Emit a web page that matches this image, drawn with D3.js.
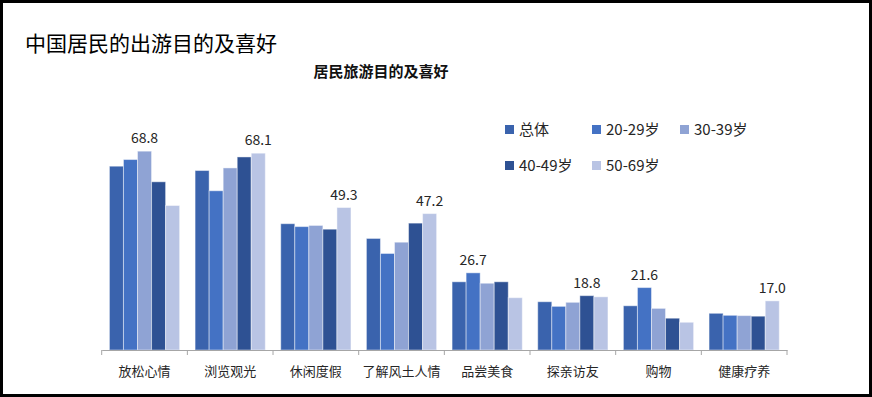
<!DOCTYPE html>
<html>
<head>
<meta charset="utf-8">
<script src="https://cdn.jsdelivr.net/npm/d3@7"></script>
<style>
  body { margin: 0; background: #fff; }
  text { font-family: "Noto Sans CJK SC", "Noto Sans", sans-serif; }
</style>
</head>
<body>
<div id="chart-area"></div>
<script>
// categories and series
var categories = ["放松心情", "浏览观光", "休闲度假", "了解风土人情", "品尝美食", "探亲访友", "购物", "健康疗养"];
var seriesNames = ["总体", "20-29岁", "30-39岁", "40-49岁", "50-69岁"];
var seriesColors = ["#3a63ad", "#4472c4", "#8fa3d4", "#2e5193", "#b9c4e4"];

var total  = [63.6, 62.1, 43.7, 38.6, 23.6, 16.7, 15.3, 12.7];
var age20  = [65.9, 55.1, 42.7, 33.4, 26.7, 15.1, 21.6, 12.0];
var age30  = [68.8, 63.0, 43.1, 37.3, 23.1, 16.5, 14.4, 11.9];
var age40  = [58.2, 66.8, 41.8, 43.9, 23.6, 18.8, 11.0, 11.7];
var age50  = [50.0, 68.1, 49.3, 47.2, 18.1, 18.4, 9.6, 17.0];

var seriesValues = [total, age20, age30, age40, age50];

TravelChart = function(_parentElement) {
  this.parentElement = _parentElement;
  this.width = 872;
  this.height = 397;
  this.initVis();
}

TravelChart.prototype.initVis = function() {
  var vis = this;

  vis.svg = d3.select("#" + vis.parentElement)
    .append("svg")
    .attr("width", vis.width)
    .attr("height", vis.height);

  // outer frame
  vis.svg.append("rect")
    .attr("x", 1.5).attr("y", 1.5)
    .attr("width", vis.width - 3).attr("height", vis.height - 3)
    .attr("fill", "#fff")
    .attr("stroke", "#000")
    .attr("stroke-width", 3);

  vis.svg.append("text")
    .attr("x", 25).attr("y", 51)
    .attr("font-size", 21)
    .attr("fill", "#000")
    .text("中国居民的出游目的及喜好");

  vis.svg.append("text")
    .attr("x", 381).attr("y", 77)
    .attr("text-anchor", "middle")
    .attr("font-size", 15)
    .attr("font-weight", "bold")
    .attr("fill", "#111")
    .text("居民旅游目的及喜好");

  vis.x0 = d3.scaleBand()
    .domain(categories)
    .range([101.7, 787]);

  vis.x1 = d3.scaleBand()
    .domain(seriesNames)
    .range([0, vis.x0.bandwidth()])
    .paddingOuter(0.55);

  vis.y = d3.scaleLinear()
    .domain([0, 70])
    .range([350, 350 - 70 * 2.89]);

  vis.updateVisualization();
}

TravelChart.prototype.updateVisualization = function() {
  var vis = this;

  // one row per category
  var rows = categories.map(function(c, i) {
    return seriesNames.map(function(s, j) {
      return {cat: c, name: s, value: seriesValues[j][i], color: seriesColors[j]};
    });
  });

  var groups = vis.svg.selectAll(".group")
    .data(rows)
    .enter().append("g")
    .attr("class", "group")
    .attr("transform", function(d, i) {
      return "translate(" + vis.x0(categories[i]) + ",0)";
    });

  groups.selectAll("rect")
    .data(function(d) { return d; })
    .enter().append("rect")
    .attr("x", function(d) { return vis.x1(d.name); })
    .attr("width", vis.x1.bandwidth())
    .attr("y", function(d) { return vis.y(d.value); })
    .attr("height", function(d) { return vis.y(0) - vis.y(d.value); })
    .attr("fill", function(d) { return d.color; })
    .attr("stroke", "rgba(255,255,255,0.45)")
    .attr("stroke-width", 1);

  // label only the highest bar of each group
  groups.append("text")
    .datum(function(d) { return d3.greatest(d, function(b) { return b.value; }); })
    .attr("x", function(d) { return vis.x1(d.name) + vis.x1.bandwidth() / 2; })
    .attr("y", function(d) { return vis.y(d.value) - 8; })
    .attr("text-anchor", "middle")
    .attr("font-size", 14)
    .attr("fill", "#262626")
    .text(function(d) { return d.value.toFixed(1); });

  // category axis
  var axis = vis.svg.append("g")
    .attr("transform", "translate(0,350)")
    .call(d3.axisBottom(vis.x0).tickSize(0).tickPadding(17));

  axis.select(".domain").attr("stroke", "#a6a6a6");
  axis.selectAll(".tick text")
    .attr("font-size", 13)
    .attr("fill", "#262626")
    .attr("font-family", "Noto Sans CJK SC");

  var edges = categories.map(function(c) { return vis.x0(c); }).concat([vis.x0.range()[1]]);
  axis.selectAll(".edge")
    .data(edges)
    .enter().append("line")
    .attr("class", "edge")
    .attr("x1", function(d) { return d; })
    .attr("x2", function(d) { return d; })
    .attr("y1", 0).attr("y2", 5)
    .attr("stroke", "#a6a6a6");

  // legend, 3 per row
  var legendX = [505, 592, 680];
  var legendY = [130, 166];
  var legend = vis.svg.selectAll(".legend")
    .data(seriesNames)
    .enter().append("g")
    .attr("class", "legend")
    .attr("transform", function(d, i) {
      return "translate(" + legendX[i % 3] + "," + legendY[Math.floor(i / 3)] + ")";
    });

  legend.append("rect")
    .attr("x", 0).attr("y", -5)
    .attr("width", 9).attr("height", 9)
    .attr("fill", function(d, i) { return seriesColors[i]; });

  legend.append("text")
    .attr("x", 14).attr("y", 5)
    .attr("font-size", 15)
    .attr("fill", "#262626")
    .text(function(d) { return d; });
}

var chart = new TravelChart("chart-area");
</script>
</body>
</html>
